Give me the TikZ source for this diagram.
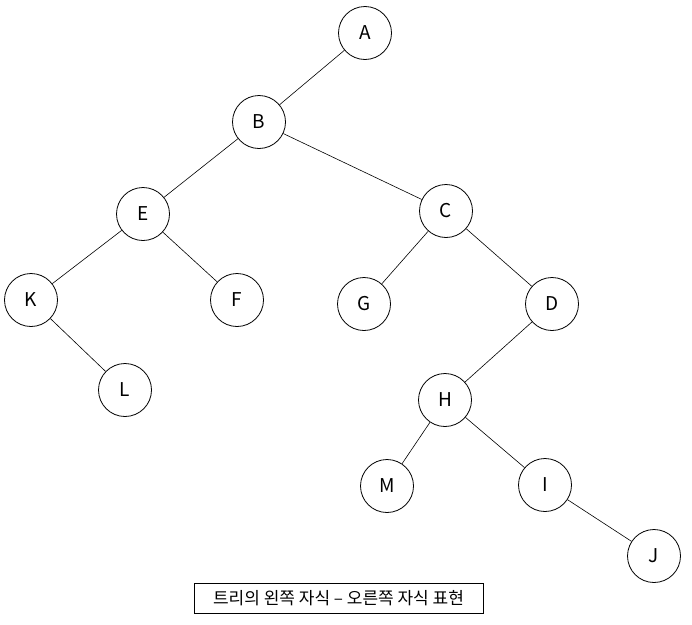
\documentclass[tikz,border=0pt]{standalone}
\usepackage{fontspec}
\setmainfont{Noto Sans CJK KR}
\begin{document}
\begin{tikzpicture}[x=1pt,y=-1pt,
  treenode/.style={circle,draw,line width=0.8pt,minimum size=53pt,inner sep=0pt,font=\fontsize{19}{20}\selectfont},
  edge/.style={line width=0.6pt},
  caption/.style={draw,line width=0.8pt,minimum width=289pt,minimum height=30pt,inner sep=0pt,font=\fontsize{17}{19}\selectfont}]
\useasboundingbox (0,0) rectangle (692,624);
\node[treenode] (A) at (365,33) {A};
\node[treenode] (B) at (259,122) {B};
\node[treenode] (C) at (446,211) {C};
\node[treenode] (E) at (143,214) {E};
\node[treenode] (K) at (31,300) {K};
\node[treenode] (F) at (237,300) {F};
\node[treenode] (G) at (364,304) {G};
\node[treenode] (D) at (552,304) {D};
\node[treenode] (L) at (125,390) {L};
\node[treenode] (H) at (445,400) {H};
\node[treenode] (M) at (387,486) {M};
\node[treenode] (I) at (545,485) {I};
\node[treenode] (J) at (654,556) {J};
\draw[edge] (A) -- (B);
\draw[edge] (B) -- (E);
\draw[edge] (B) -- (C);
\draw[edge] (E) -- (K);
\draw[edge] (E) -- (F);
\draw[edge] (K) -- (L);
\draw[edge] (C) -- (G);
\draw[edge] (C) -- (D);
\draw[edge] (D) -- (H);
\draw[edge] (H) -- (M);
\draw[edge] (H) -- (I);
\draw[edge] (I) -- (J);
\node[caption] (cap) at (338.5,598) {트리의 왼쪽 자식 – 오른쪽 자식 표현};
\end{tikzpicture}
\end{document}
